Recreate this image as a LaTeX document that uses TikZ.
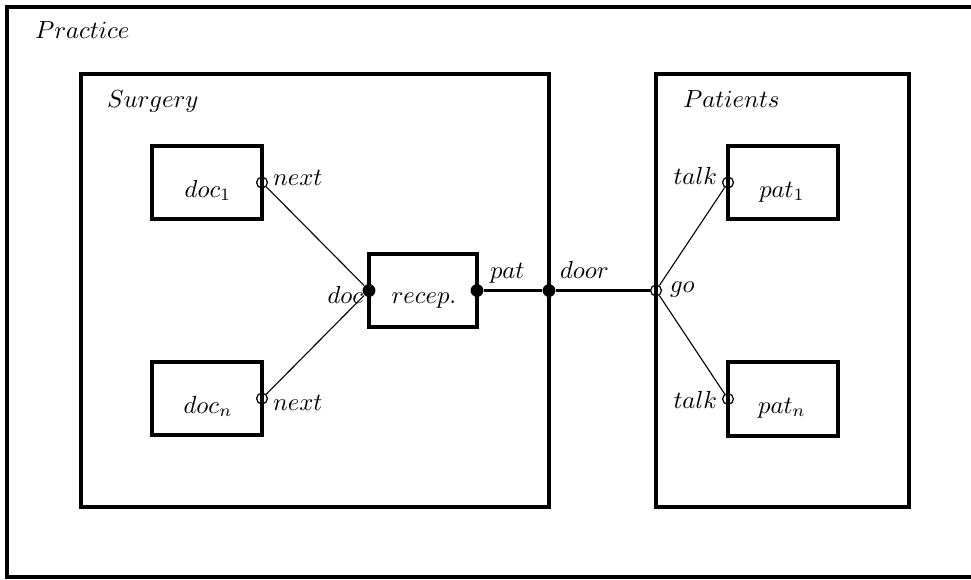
\documentclass[tikz,border=0pt]{standalone}
\begin{document}
\begin{tikzpicture}[x=0.405pt,y=-0.405pt,
  box/.style={draw,rectangle,line width=1.4pt,inner sep=0pt,outer sep=0pt},
  opn/.style={draw,circle,line width=0.5pt,inner sep=0pt,minimum size=4.4pt},
  full/.style={circle,fill=black,inner sep=0pt,minimum size=5.2pt},
  thinwire/.style={line width=0.45pt},
  wire/.style={line width=0.85pt},
  lbl/.style={inner sep=0pt,outer sep=0pt}]
\useasboundingbox (0,0) rectangle (971,579);
\clip (0,0) rectangle (971,579);
% frames
\node[box,minimum width={993*0.405pt},minimum height={570*0.405pt}] (practice) at (503.5,292) {};
\node[box,minimum width={468*0.405pt},minimum height={433*0.405pt}] (surg) at (315,290.5) {};
\node[box,minimum width={253*0.405pt},minimum height={433*0.405pt}] (pats) at (782.5,290.5) {};
% components
\node[box,minimum width={110*0.405pt},minimum height={73*0.405pt}] (d1) at (207,182.5) {};
\node[box,minimum width={110*0.405pt},minimum height={73*0.405pt}] (dn) at (207,398.5) {};
\node[box,minimum width={108*0.405pt},minimum height={73*0.405pt}] (rc) at (423,290.5) {};
\node[box,minimum width={110*0.405pt},minimum height={73*0.405pt}] (p1) at (783,182.5) {};
\node[box,minimum width={110*0.405pt},minimum height={74*0.405pt}] (pn) at (783,399) {};
% component texts
\node[lbl,anchor=base] (td1) at (208,197) {$doc_1$};
\node[lbl,anchor=base] (tdn) at (208,413) {$doc_n$};
\node[lbl,anchor=base] (trc) at (424,303) {$recep.$};
\node[lbl,anchor=base] (tp1) at (782,197) {$pat_1$};
\node[lbl,anchor=base] (tpn) at (782,413) {$pat_n$};
% frame titles
\node[lbl,anchor=base west] (tpr) at (35,38) {$Practice$};
\node[lbl,anchor=base west] (tsu) at (107,107) {$Surgery$};
\node[lbl,anchor=base west] (tpa) at (683,107) {$Patients$};
% ports
\node[opn] (n1) at (d1.east) {};
\node[opn] (n2) at (dn.east) {};
\node[opn] (k1) at (p1.west) {};
\node[opn] (k2) at (pn.west) {};
\node[opn] (go) at (pats.west) {};
\node[full] (dd) at (rc.west) {};
\node[full] (pd) at (rc.east) {};
\node[full] (door) at (surg.east) {};
% port labels
\node[lbl,anchor=base west] at (273,185) {$next$};
\node[lbl,anchor=base west] at (273,410) {$next$};
\node[lbl,anchor=base east] at (363,303) {$doc$};
\node[lbl,anchor=base west] at (490,278) {$pat$};
\node[lbl,anchor=base west] at (560,278) {$door$};
\node[lbl,anchor=base west] at (670,292) {$go$};
\node[lbl,anchor=base east] at (717,184) {$talk$};
\node[lbl,anchor=base east] at (717,408) {$talk$};
% connectors
\draw[thinwire] (n1) -- (dd);
\draw[thinwire] (n2) -- (dd);
\draw[wire] (pd) -- (door);
\draw[wire] (door) -- (go);
\draw[thinwire] (go) -- (k1);
\draw[thinwire] (go) -- (k2);
\end{tikzpicture}
\end{document}
